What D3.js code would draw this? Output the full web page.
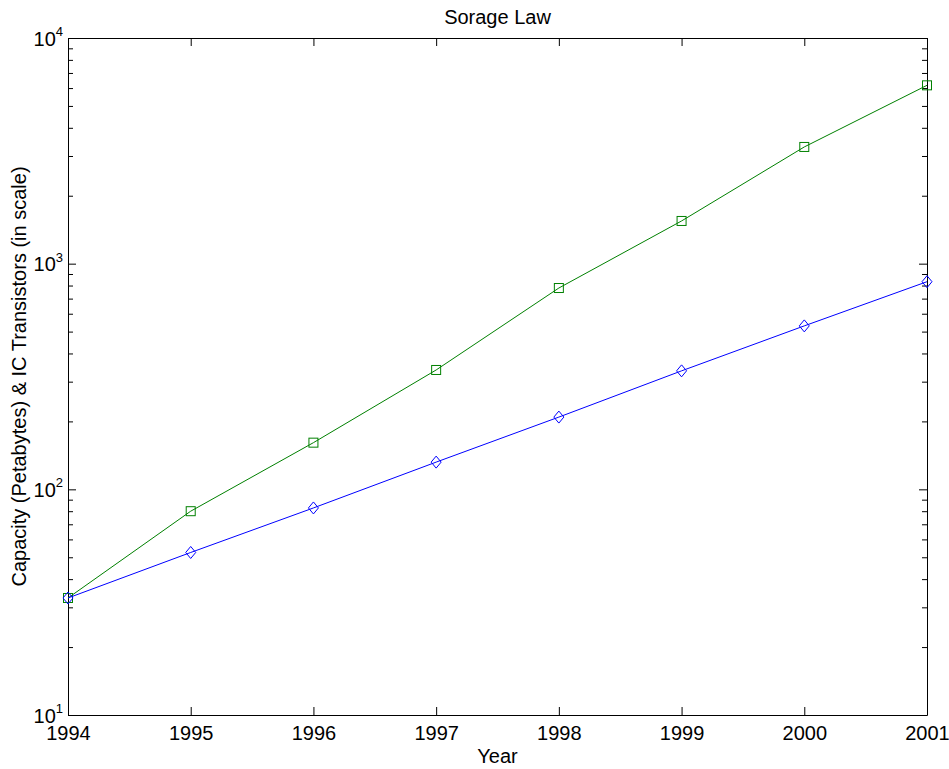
<!DOCTYPE html>
<html>
<head>
<meta charset="utf-8">
<script src="https://cdn.jsdelivr.net/npm/d3@7"></script>
<style>
  body { margin: 0; background: #fff; }
  text { font-family: "Liberation Sans", Arial, sans-serif; fill: #000; }
</style>
</head>
<body>
<div id="chart"></div>
<script>
// Values
var years = [1994, 1995, 1996, 1997, 1998, 1999, 2000, 2001];
var storage = [33, 80, 161, 338, 780, 1546, 3290, 6170];      // green squares
var transistors = [33, 52.5, 82.7, 132, 209, 335, 530, 832];  // blue diamonds
var decades = [10, 100, 1000, 10000];
var title = 'Sorage Law';
var xLabel = 'Year';
var yLabel = 'Capacity (Petabytes) & IC Transistors (in scale)';

var W = 949, H = 769;
var margin = { top: 38, right: 22, bottom: 54, left: 68 },
    width = W - margin.left - margin.right,
    height = H - margin.top - margin.bottom;

var svg = d3.select('#chart')
    .append('svg')
    .attr('width', W)
    .attr('height', H);

var g = svg.append('g')
    .attr('transform', 'translate(' + margin.left + ',' + margin.top + ')');

var x = d3.scaleLinear()
    .domain([years[0], years[years.length - 1]])
    .range([0, width]);

var y = d3.scaleLog()
    .domain([decades[0], decades[decades.length - 1]])
    .range([height, 0]);

// minor log ticks 2..9 in each decade
var minors = [];
decades.slice(0, -1).forEach(function(d) {
    for (var k = 2; k <= 9; k++) minors.push(d * k);
});

function styleAxis(sel) {
    sel.selectAll('path, line').attr('stroke', '#000').attr('stroke-width', 1);
    sel.attr('font-size', null).attr('font-family', null);
}

// Bottom axis with labels
g.append('g')
    .attr('transform', 'translate(0,' + height + ')')
    .call(d3.axisBottom(x).tickValues(years).tickFormat(d3.format('d'))
        .tickSizeInner(-8).tickSizeOuter(0).tickPadding(11))
    .call(styleAxis)
    .selectAll('text').style('font-size', '20px');

// Top axis, ticks only
g.append('g')
    .call(d3.axisTop(x).tickValues(years).tickFormat('')
        .tickSizeInner(-8).tickSizeOuter(0))
    .call(styleAxis);

// Left axis, decade ticks with superscript labels
var yLeft = g.append('g')
    .call(d3.axisLeft(y).tickValues(decades).tickFormat('')
        .tickSizeInner(-8).tickSizeOuter(0).tickPadding(5))
    .call(styleAxis);

yLeft.selectAll('.tick text')
    .attr('dy', '0.36em')
    .style('font-size', '20px')
    .each(function(d) {
        var t = d3.select(this).text(null);
        t.append('tspan').text('10');
        t.append('tspan')
            .attr('dy', '-0.75em')
            .style('font-size', '13px')
            .text(Math.round(Math.log10(d)));
    });

g.append('g')
    .call(d3.axisLeft(y).tickValues(minors).tickFormat('')
        .tickSizeInner(-5).tickSizeOuter(0))
    .call(styleAxis)
    .select('.domain').remove();

// Right axis, ticks only
g.append('g')
    .attr('transform', 'translate(' + width + ',0)')
    .call(d3.axisRight(y).tickValues(decades).tickFormat('')
        .tickSizeInner(-8).tickSizeOuter(0))
    .call(styleAxis);

g.append('g')
    .attr('transform', 'translate(' + width + ',0)')
    .call(d3.axisRight(y).tickValues(minors).tickFormat('')
        .tickSizeInner(-5).tickSizeOuter(0))
    .call(styleAxis)
    .select('.domain').remove();

// Lines
var line = d3.line()
    .x(function(d) { return x(d[0]); })
    .y(function(d) { return y(d[1]); });

var storageData = d3.zip(years, storage);
var transData = d3.zip(years, transistors);

g.append('path')
    .datum(storageData)
    .attr('fill', 'none')
    .attr('stroke', '#008000')
    .attr('stroke-width', 1)
    .attr('d', line);

g.selectAll('.sq')
    .data(storageData)
    .enter().append('rect')
    .attr('class', 'sq')
    .attr('x', function(d) { return x(d[0]) - 4.5; })
    .attr('y', function(d) { return y(d[1]) - 4.5; })
    .attr('width', 9)
    .attr('height', 9)
    .attr('fill', 'none')
    .attr('stroke', '#008000')
    .attr('stroke-width', 1);

g.append('path')
    .datum(transData)
    .attr('fill', 'none')
    .attr('stroke', '#0000ff')
    .attr('stroke-width', 1)
    .attr('d', line);

g.selectAll('.dm')
    .data(transData)
    .enter().append('path')
    .attr('class', 'dm')
    .attr('transform', function(d) { return 'translate(' + x(d[0]) + ',' + y(d[1]) + ')'; })
    .attr('d', 'M0,-6L5,0L0,6L-5,0Z')
    .attr('fill', 'none')
    .attr('stroke', '#0000ff')
    .attr('stroke-width', 1);

// Titles
svg.append('text')
    .attr('x', margin.left + width / 2)
    .attr('y', 24)
    .attr('text-anchor', 'middle')
    .style('font-size', '20px')
    .text(title);

svg.append('text')
    .attr('x', margin.left + width / 2)
    .attr('y', 763)
    .attr('text-anchor', 'middle')
    .style('font-size', '20px')
    .text(xLabel);

svg.append('text')
    .attr('transform', 'translate(26,' + (margin.top + height / 2) + ') rotate(-90)')
    .attr('text-anchor', 'middle')
    .style('font-size', '20px')
    .text(yLabel);
</script>
</body>
</html>
